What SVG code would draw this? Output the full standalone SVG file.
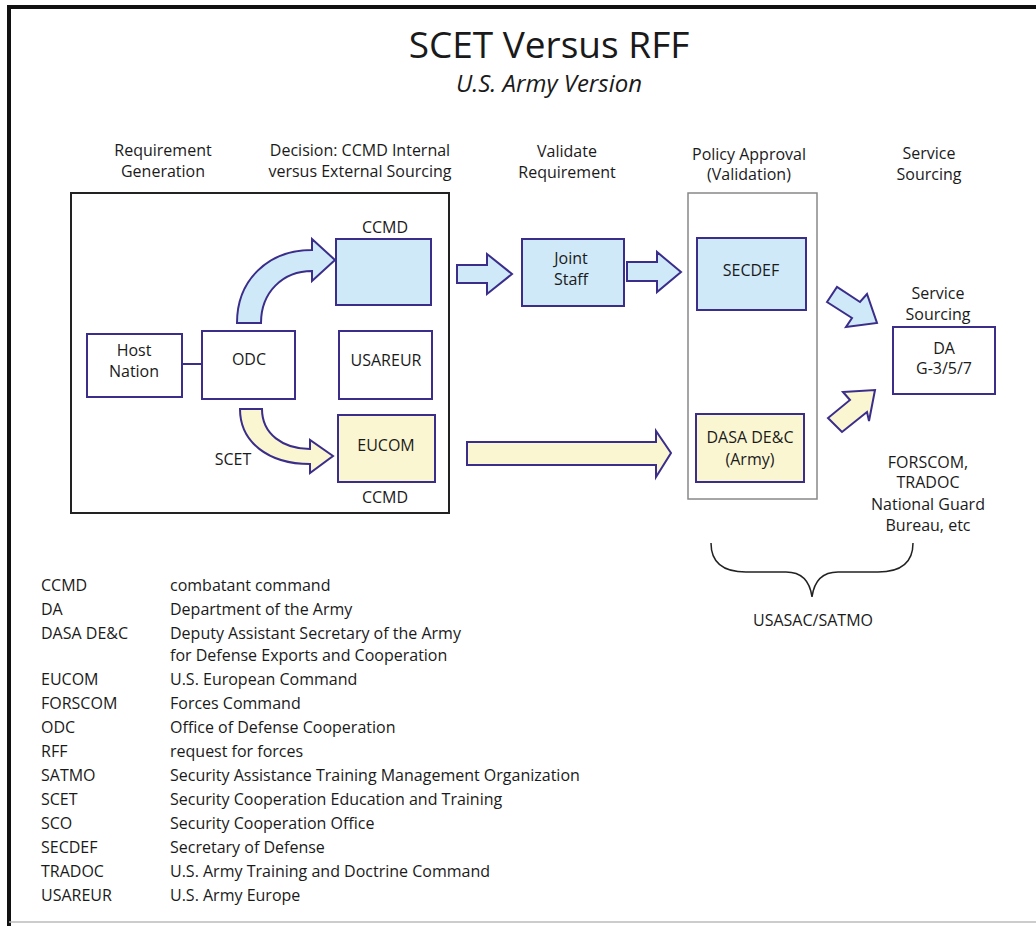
<svg xmlns="http://www.w3.org/2000/svg" width="1036" height="926" viewBox="0 0 1036 926">
<style>
text{font-family:"Open Sans","Noto Sans","Liberation Sans",sans-serif;font-size:16px;fill:#1a1a1a}
.c{text-anchor:middle}
.box{stroke:#3a2e8a;stroke-width:2}
.blue{fill:#cfe9f9}
.yel{fill:#fbf6d2}
.wht{fill:#fff}
.arr{stroke:#3a2e8a;stroke-width:2;stroke-linejoin:miter}
</style>
<rect x="0" y="0" width="1036" height="926" fill="#fff"/>
<g id="frame">
<path d="M9,926 V7 H1036" fill="none" stroke="#111" stroke-width="4"/>
<line x1="9" y1="922" x2="1036" y2="922" stroke="#bbb" stroke-width="1.5"/>
</g>
<g id="title">
<text class="c" x="549" y="58" style="font-size:37px">SCET Versus RFF</text>
<text class="c" x="549" y="92" style="font-size:24px;font-style:italic">U.S. Army Version</text>
</g>
<g id="headers">
<text class="c" x="163" y="156">Requirement</text>
<text class="c" x="163" y="177">Generation</text>
<text class="c" x="360" y="156">Decision: CCMD Internal</text>
<text class="c" x="360" y="177">versus External Sourcing</text>
<text class="c" x="567" y="157">Validate</text>
<text class="c" x="567" y="178">Requirement</text>
<text class="c" x="749" y="160">Policy Approval</text>
<text class="c" x="749" y="180">(Validation)</text>
<text class="c" x="929" y="159">Service</text>
<text class="c" x="929" y="180">Sourcing</text>
</g>
<g id="ccmd-frame"><rect x="71" y="193" width="378" height="320" fill="none" stroke="#222" stroke-width="2"/></g>
<g id="policy-frame"><rect x="688" y="193" width="129" height="306" fill="none" stroke="#888" stroke-width="1.5"/></g>
<g id="connectors">
<line x1="182" y1="364" x2="202" y2="364" stroke="#3a2e8a" stroke-width="2"/>
<path class="arr blue" d="M237,323 C237,280 268,250 312,250 L312,239 L335,260 L312,281 L312,271 C283,271 261,292 261,323 Z"/>
<path class="arr yel" d="M240,409 L262,409 C262,434 283,449 310,449 L310,440 L333,456 L310,473 L310,464 C268,464 240,442 240,409 Z"/>
<polygon class="arr blue" points="457,265 487,265 487,254 512,274 487,294 487,283 457,283"/>
<polygon class="arr blue" points="627,262 657,262 657,252 681,272 657,292 657,281 627,281"/>
<polygon class="arr yel" points="467,442 656,442 656,431 671,453 656,477 656,465 467,465"/>
<polygon class="arr blue" points="827,302 837,287 860,302 867,294 877,323 846,327 852,318"/>
<polygon class="arr yel" points="843,392 875,390 869,421 867,412 842,432 828,418 850,400"/>
</g>
<g id="host-nation"><rect class="box wht" x="87" y="334" width="95" height="63"/><text class="c" x="134" y="356">Host</text><text class="c" x="134" y="377">Nation</text></g>
<g id="odc"><rect class="box wht" x="202" y="331" width="93" height="68"/><text class="c" x="249" y="365">ODC</text></g>
<g id="ccmd-top"><text class="c" x="385" y="233">CCMD</text><rect class="box blue" x="336" y="239" width="95" height="66"/></g>
<g id="usareur"><rect class="box wht" x="339" y="331" width="93" height="68"/><text class="c" x="386" y="366">USAREUR</text></g>
<g id="eucom"><rect class="box yel" x="338" y="415" width="97" height="67"/><text class="c" x="386" y="451">EUCOM</text><text class="c" x="385" y="503">CCMD</text></g>
<g id="scet-label"><text class="c" x="233" y="465">SCET</text></g>
<g id="joint-staff"><rect class="box blue" x="522" y="239" width="102" height="67"/><text class="c" x="571" y="264">Joint</text><text class="c" x="571" y="285">Staff</text></g>
<g id="secdef"><rect class="box blue" x="697" y="238" width="109" height="72"/><text class="c" x="751" y="276">SECDEF</text></g>
<g id="dasa"><rect class="box yel" x="696" y="414" width="108" height="68"/><text class="c" x="750" y="443">DASA DE&amp;C</text><text class="c" x="750" y="465">(Army)</text></g>
<g id="da"><text class="c" x="938" y="299">Service</text><text class="c" x="938" y="320">Sourcing</text><rect class="box wht" x="893" y="327" width="102" height="67"/><text class="c" x="944" y="354">DA</text><text class="c" x="944" y="374">G-3/5/7</text></g>
<g id="commands"><text class="c" x="928" y="468">FORSCOM,</text><text class="c" x="928" y="488">TRADOC</text><text class="c" x="928" y="510">National Guard</text><text class="c" x="928" y="531">Bureau, etc</text></g>
<g id="usasac">
<path d="M711,543 C711,564 724,572 746,572 L786,572 C802,572 810,582 812,597 C814,582 822,572 838,572 L878,572 C900,572 913,564 913,543" fill="none" stroke="#222" stroke-width="1.5"/>
<text class="c" x="813" y="626">USASAC/SATMO</text>
</g>
<g id="legend">
<text x="41" y="591">CCMD</text><text x="170" y="591">combatant command</text>
<text x="41" y="615">DA</text><text x="170" y="615">Department of the Army</text>
<text x="41" y="639">DASA DE&amp;C</text><text x="170" y="639">Deputy Assistant Secretary of the Army</text>
<text x="170" y="661">for Defense Exports and Cooperation</text>
<text x="41" y="685">EUCOM</text><text x="170" y="685">U.S. European Command</text>
<text x="41" y="709">FORSCOM</text><text x="170" y="709">Forces Command</text>
<text x="41" y="733">ODC</text><text x="170" y="733">Office of Defense Cooperation</text>
<text x="41" y="757">RFF</text><text x="170" y="757">request for forces</text>
<text x="41" y="781">SATMO</text><text x="170" y="781">Security Assistance Training Management Organization</text>
<text x="41" y="805">SCET</text><text x="170" y="805">Security Cooperation Education and Training</text>
<text x="41" y="829">SCO</text><text x="170" y="829">Security Cooperation Office</text>
<text x="41" y="853">SECDEF</text><text x="170" y="853">Secretary of Defense</text>
<text x="41" y="877">TRADOC</text><text x="170" y="877">U.S. Army Training and Doctrine Command</text>
<text x="41" y="901">USAREUR</text><text x="170" y="901">U.S. Army Europe</text>
</g>
</svg>
